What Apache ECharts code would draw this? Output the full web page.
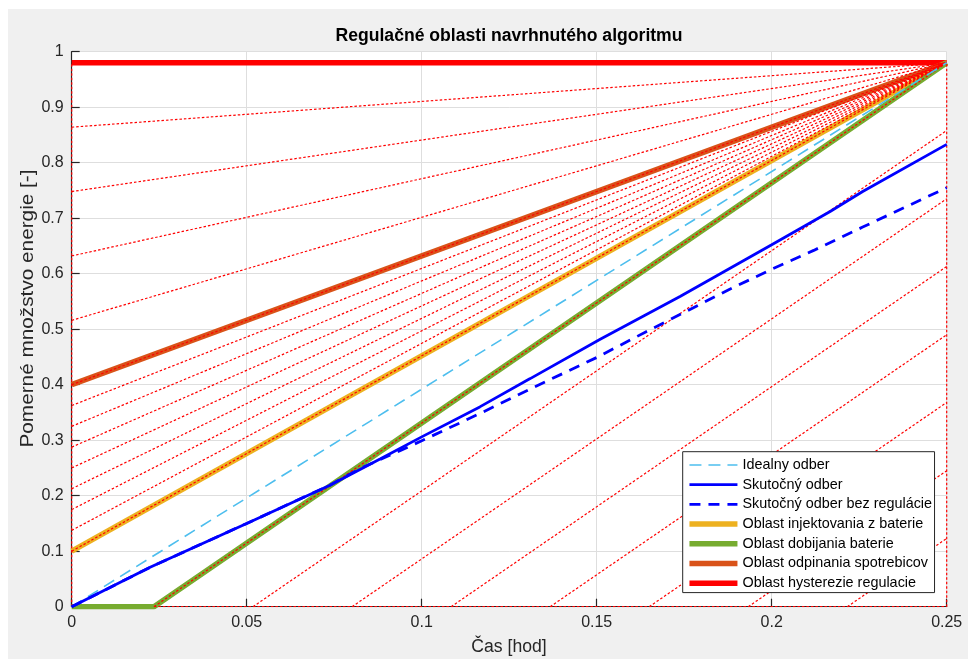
<!DOCTYPE html>
<html>
<head>
<meta charset="utf-8">
<title>Regulačné oblasti navrhnutého algoritmu</title>
<script src="https://cdn.jsdelivr.net/npm/echarts@6/dist/echarts.min.js"></script>
<style>
  html, body { margin: 0; padding: 0; background: #ffffff; }
  #chart { position: absolute; left: 8px; top: 9px; width: 960px; height: 650px; }
</style>
</head>
<body>
<div id="chart"></div>
<script>
// ---- data -------------------------------------------------------------
const xTicks = [0, 0.05, 0.1, 0.15, 0.2, 0.25];
const yTicks = [0, 0.1, 0.2, 0.3, 0.4, 0.5, 0.6, 0.7, 0.8, 0.9, 1];

// common end point of the upper region boundaries [time, energy]
const apex = [0.25, 0.98];

// ideal consumption
const idealX = [0, 0.25];
const idealY = [0, 0.98];

// measured consumption with regulation
const realX = [0, 0.0224, 0.05, 0.0738, 0.0881, 0.1, 0.1166, 0.131, 0.151, 0.1738, 0.2, 0.2167, 0.226, 0.25];
const realY = [0, 0.071, 0.150, 0.219, 0.266, 0.306, 0.360, 0.411, 0.482, 0.559, 0.652, 0.712, 0.748, 0.833];

// measured consumption without regulation
const rawX = [0, 0.0224, 0.05, 0.0738, 0.0824, 0.0938, 0.1, 0.1166, 0.1319, 0.15, 0.164, 0.188, 0.2, 0.212, 0.226, 0.25];
const rawY = [0, 0.071, 0.150, 0.219, 0.249, 0.281, 0.299, 0.348, 0.395, 0.449, 0.495, 0.572, 0.608, 0.642, 0.684, 0.755];

// region boundaries
const injectX = [0, 0.25];         const injectY = [0.1, 0.98];
const chargeX = [0, 0.0235, 0.25]; const chargeY = [0, 0, 0.98];
const cutoffX = [0, 0.25];         const cutoffY = [0.4, 0.98];
const hystX = [0, 0.25];           const hystY = [0.98, 0.98];

// dotted guide lines starting on the energy axis (t = 0), ending at the apex
const guideLeftStarts = [0.1, 0.1375, 0.175, 0.2125, 0.25, 0.2875, 0.325, 0.3625, 0.4, 0.516, 0.632, 0.748, 0.864];
// dotted guide lines starting on the time axis, parallel to the charging boundary
const guideBottomStarts = [0.0518, 0.0801, 0.1084, 0.1367, 0.165, 0.1933, 0.2216];
const guideBottomEnds   = [0.858, 0.735, 0.613, 0.490, 0.368, 0.245, 0.123];

// ---- helpers ----------------------------------------------------------
const zip = (xs, ys) => xs.map((x, i) => [x, ys[i]]);
const FONT = 'Liberation Sans, Arial, Helvetica, sans-serif';
const tEnd = xTicks[xTicks.length - 1];

const names = {
  ideal: 'Idealny odber',
  real: 'Skutočný odber',
  raw: 'Skutočný odber bez regulácie',
  inject: 'Oblast injektovania z baterie',
  charge: 'Oblast dobijania baterie',
  cutoff: 'Oblast odpinania spotrebicov',
  hyst: 'Oblast hysterezie regulacie'
};

function lineSeries(name, data, color, width, dash) {
  return {
    type: 'line',
    name: name,
    data: data,
    symbol: 'none',
    showSymbol: false,
    silent: true,
    animation: false,
    lineStyle: { color: color, width: width, type: dash || 'solid', cap: 'butt' },
    itemStyle: { color: color, opacity: 0 }
  };
}

const DOT = [2.5, 2];
const series = [];

// thick region boundaries
series.push(lineSeries(names.hyst, zip(hystX, hystY), '#FF0000', 5.5));
series.push(lineSeries(names.cutoff, zip(cutoffX, cutoffY), '#D95319', 5.5));
series.push(lineSeries(names.inject, zip(injectX, injectY), '#EDB120', 5.5));
series.push(lineSeries(names.charge, zip(chargeX, chargeY), '#77AC30', 5.5));

// dotted guide lines
guideLeftStarts.forEach(function (y0) {
  series.push(lineSeries('', [[0, y0], apex], '#FF0000', 1.2, DOT));
});
series.push(lineSeries('', [[chargeX[1], 0], apex], '#FF0000', 1.2, DOT));
guideBottomStarts.forEach(function (x0, i) {
  series.push(lineSeries('', [[x0, 0], [tEnd, guideBottomEnds[i]]], '#FF0000', 1.2, DOT));
});
// dotted outline of the area
series.push(lineSeries('', [[0, 0], [0, apex[1]]], '#FF0000', 1.2, DOT));
series.push(lineSeries('', [[tEnd, 0], apex], '#FF0000', 1.2, DOT));
series.push(lineSeries('', [[chargeX[1], 0], [tEnd, 0]], '#FF0000', 1.2, DOT));

// consumption curves
series.push(lineSeries(names.ideal, zip(idealX, idealY), '#4DBEEE', 1.6, [12, 7]));
series.push(lineSeries(names.real, zip(realX, realY), '#0000FF', 2.8));
series.push(lineSeries(names.raw, zip(rawX, rawY), '#0000FF', 2.8, [11, 8]));

const chart = echarts.init(document.getElementById('chart'), null, { renderer: 'canvas' });

chart.setOption({
  backgroundColor: '#F0F0F0',
  animation: false,
  textStyle: { fontFamily: FONT },
  grid: {
    left: 63.7, top: 42.7, width: 875, height: 555,
    show: true, backgroundColor: '#FFFFFF', borderWidth: 0,
    containLabel: false
  },
  xAxis: {
    type: 'value',
    min: xTicks[0], max: tEnd, interval: xTicks[1] - xTicks[0],
    axisLine: { show: true, onZero: false, lineStyle: { color: '#262626', width: 1.2 } },
    axisTick: { show: true, inside: true, length: 8, lineStyle: { color: '#262626', width: 1.2 } },
    axisLabel: { color: '#262626', fontSize: 16, fontFamily: FONT, margin: 8 },
    splitLine: { show: true, lineStyle: { color: '#DEDEDE', width: 1 } }
  },
  yAxis: {
    type: 'value',
    min: yTicks[0], max: yTicks[yTicks.length - 1], interval: yTicks[1] - yTicks[0],
    axisLine: { show: true, onZero: false, lineStyle: { color: '#262626', width: 1.2 } },
    axisTick: { show: true, inside: true, length: 8, lineStyle: { color: '#262626', width: 1.2 } },
    axisLabel: { color: '#262626', fontSize: 16, fontFamily: FONT, margin: 8 },
    splitLine: { show: true, lineStyle: { color: '#DEDEDE', width: 1 } }
  },
  legend: {
    data: [names.ideal, names.real, names.raw, names.inject, names.charge, names.cutoff, names.hyst],
    orient: 'vertical',
    left: 674.7, top: 442.7,
    padding: [6.3, 2.5, 2.4, 4],
    itemWidth: 48, itemHeight: 14, itemGap: 5.7, itemTextGap: 0.1,
    backgroundColor: '#FFFFFF',
    borderColor: '#262626', borderWidth: 1,
    selectedMode: false,
    itemStyle: { opacity: 0, borderWidth: 0 },
    lineStyle: { width: 'inherit', type: 'inherit', color: 'inherit' },
    textStyle: { color: '#000000', fontSize: 14.4, fontFamily: FONT, lineHeight: 14 }
  },
  graphic: [
    {
      type: 'text', x: 501, y: 27.5, silent: true,
      style: { text: 'Regulačné oblasti navrhnutého algoritmu', fill: '#000000',
               font: 'bold 17.6px ' + FONT, align: 'center', verticalAlign: 'middle' }
    },
    {
      type: 'text', x: 501, y: 638, silent: true,
      style: { text: 'Čas [hod]', fill: '#262626',
               font: '17.6px ' + FONT, align: 'center', verticalAlign: 'middle' }
    },
    {
      type: 'text', x: 20, y: 299.5, rotation: Math.PI / 2, scaleX: 1.18, silent: true,
      style: { text: 'Pomerné množstvo energie [-]', fill: '#262626',
               font: '17.6px ' + FONT, align: 'center', verticalAlign: 'middle' }
    }
  ],
  series: series
});
</script>
</body>
</html>
